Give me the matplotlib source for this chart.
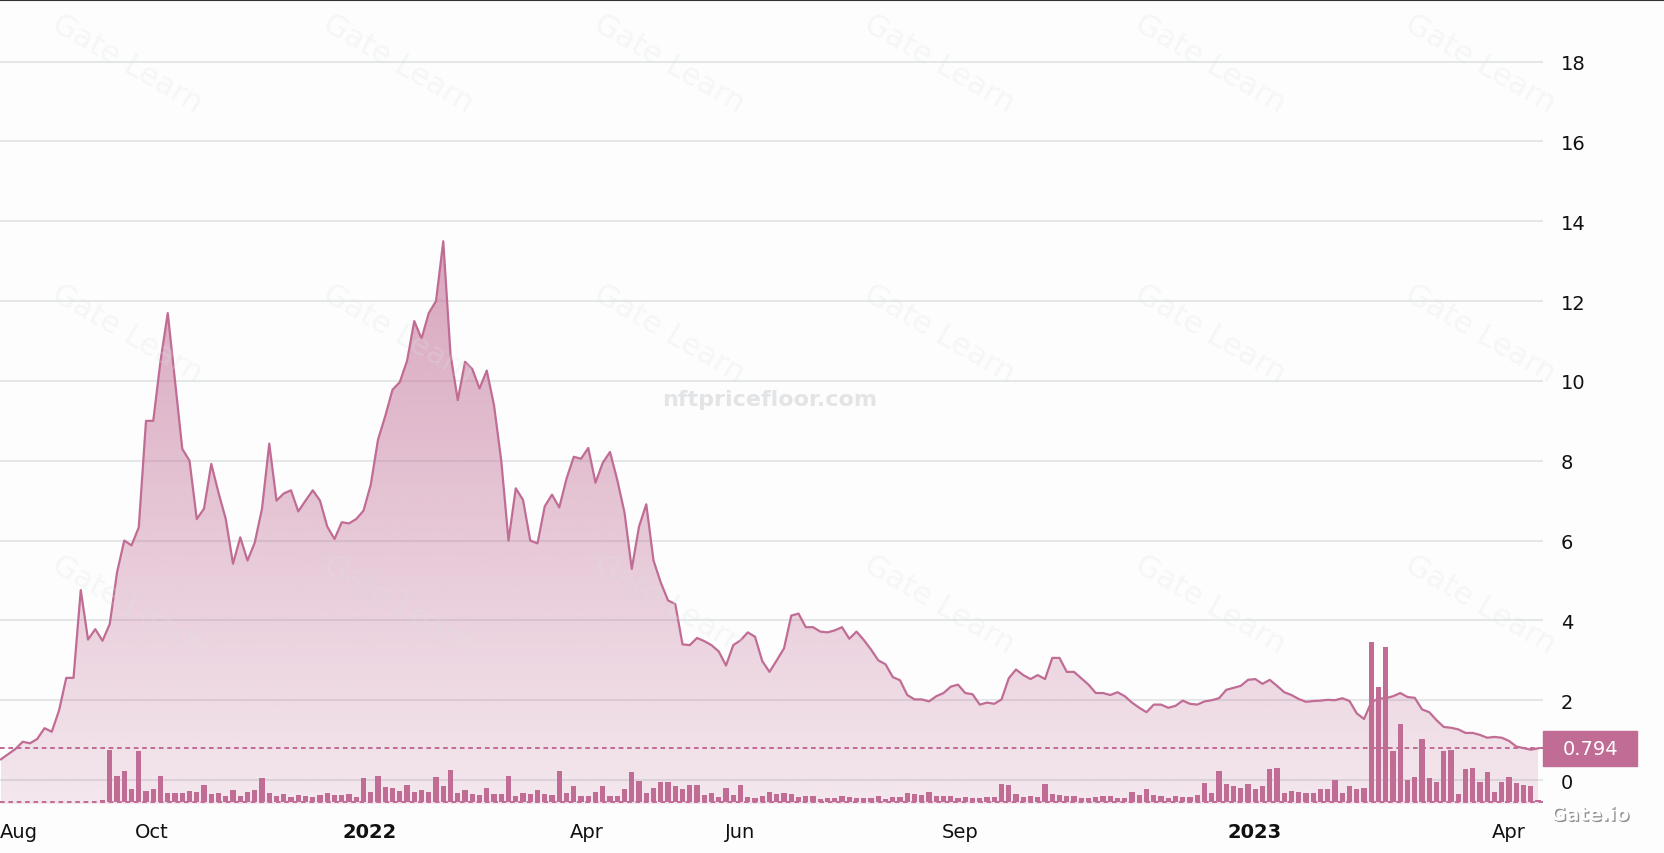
import numpy as np
import matplotlib
matplotlib.use("Agg")
import matplotlib.pyplot as plt
import matplotlib.patheffects as pe
from matplotlib.colors import to_rgb
from matplotlib.patches import Rectangle
from matplotlib.transforms import blended_transform_factory

# floor price (ETH), one point every few days
precio = [
    0.52, 0.65, 0.78, 0.96, 0.92, 1.03, 1.30, 1.21, 1.74, 2.56,
    2.56, 4.76, 3.52, 3.78, 3.49, 3.91, 5.2, 6.0, 5.88, 6.33,
    9.0, 9.0, 10.5, 11.7, 10.0, 8.3, 8.0, 6.54, 6.8, 7.92,
    7.2, 6.54, 5.42, 6.08, 5.5, 5.95, 6.8, 8.43, 7.0, 7.18,
    7.26, 6.73, 7.0, 7.26, 7.0, 6.35, 6.04, 6.46, 6.43, 6.54,
    6.75, 7.4, 8.53, 9.12, 9.78, 9.97, 10.5, 11.5, 11.06, 11.7,
    12.0, 13.5, 10.66, 9.52, 10.48, 10.3, 9.81, 10.26, 9.39, 8.0,
    6.0, 7.31, 7.02, 6.0, 5.93, 6.86, 7.15, 6.83, 7.55, 8.1,
    8.05, 8.32, 7.45, 7.95, 8.22, 7.52, 6.7, 5.29, 6.35, 6.91,
    5.5, 4.95, 4.5, 4.41, 3.4, 3.38, 3.56, 3.48, 3.38, 3.22,
    2.87, 3.38, 3.5, 3.7, 3.59, 2.98, 2.71, 3.0, 3.3, 4.12,
    4.17, 3.83, 3.83, 3.72, 3.7, 3.75, 3.83, 3.54, 3.72, 3.51,
    3.27, 3.0, 2.9, 2.58, 2.5, 2.13, 2.02, 2.02, 1.97, 2.1,
    2.18, 2.34, 2.39, 2.18, 2.15, 1.89, 1.94, 1.91, 2.02, 2.55,
    2.77, 2.63, 2.53, 2.63, 2.53, 3.06, 3.06, 2.71, 2.71, 2.55,
    2.39, 2.18, 2.18, 2.13, 2.2, 2.1, 1.94, 1.81, 1.7, 1.89,
    1.89, 1.81, 1.86, 1.99, 1.91, 1.89, 1.97, 2.0, 2.05, 2.26,
    2.31, 2.36, 2.51, 2.53, 2.41, 2.51, 2.36, 2.2, 2.13, 2.03,
    1.96, 1.98, 1.99, 2.01, 2.0, 2.05, 1.98, 1.67, 1.53, 1.95,
    2.04, 2.05, 2.1, 2.18, 2.08, 2.06, 1.77, 1.70, 1.50, 1.33,
    1.31, 1.27, 1.18, 1.18, 1.13, 1.06, 1.08, 1.06, 0.98, 0.84,
    0.80, 0.76, 0.794,
]

# traded volume, same points (no sales in the first weeks)
volumen = [0] * 14 + [
    5, 155, 77, 92, 38, 152, 32, 38, 77, 26,
    26, 26, 32, 29, 50, 23, 26, 17, 35, 17,
    29, 35, 71, 26, 17, 23, 14, 20, 17, 14,
    20, 26, 20, 20, 23, 14, 71, 29, 77, 44,
    41, 32, 50, 29, 35, 29, 74, 47, 95, 26,
    35, 23, 20, 41, 23, 23, 77, 17, 26, 23,
    35, 23, 20, 92, 26, 47, 17, 17, 29, 47,
    17, 17, 38, 89, 62, 26, 41, 59, 59, 47,
    38, 50, 50, 20, 26, 14, 41, 20, 50, 14,
    11, 17, 29, 23, 26, 23, 14, 17, 17, 8,
    11, 11, 17, 14, 11, 11, 11, 17, 8, 14,
    14, 26, 23, 20, 29, 17, 17, 17, 11, 14,
    11, 11, 14, 14, 53, 50, 23, 14, 17, 14,
    53, 23, 20, 17, 17, 11, 11, 14, 17, 17,
    11, 11, 29, 20, 38, 20, 17, 11, 17, 14,
    14, 20, 56, 26, 92, 53, 47, 41, 53, 38,
    47, 98, 101, 26, 32, 29, 26, 26, 38, 38,
    65, 26, 47, 38, 41, 480, 344, 464, 152, 233,
    65, 74, 188, 71, 59, 152, 155, 23, 98, 101,
    59, 89, 29, 59, 74, 56, 50, 47, 5,
]

tick_pos = [2.5, 20.8, 50.9, 80.8, 101.9, 132.3, 172.9, 208.0]
tick_labels = ['Aug', 'Oct', '2022', 'Apr', 'Jun', 'Sep', '2023', 'Apr']
y_ticks = list(range(0, 19, 2))
ultimo = precio[-1]

rosa = '#c06c94'
fondo = '#fdfdfd'

fig = plt.figure(figsize=(16.64, 8.54), dpi=100, facecolor=fondo)
ax = fig.add_axes([0, 0.0574, 0.9273, 0.9426])
ax.set_facecolor(fondo)

x = np.arange(len(precio))
y0, y1 = -0.60, 19.57

# volume bars on their own scale (twinx first, it moves the y ticks)
ax2 = ax.twinx()
ax2.set_ylim(-6.9, 2408)
ax2.bar(x, volumen, width=0.74, color=rosa, linewidth=0, zorder=2)
ax2.axhline(0, color=rosa, lw=1.4, dashes=(2.4, 1.9))
ax2.set_yticks([])
for s in ax2.spines.values():
    s.set_visible(False)

# gradient under the price line
yy = np.linspace(y0, y1, 400)
img = np.zeros((400, 1, 4))
img[:, 0, :3] = to_rgb(rosa)
img[:, 0, 3] = np.clip(0.17 + 0.032 * yy, 0.12, 0.8)
relleno = ax.fill_between(x, precio, y0, facecolor='none', edgecolor='none')
im = ax.imshow(img, extent=[x[0], x[-1], y0, y1], origin='lower',
               aspect='auto', zorder=1, interpolation='bilinear')
im.set_clip_path(relleno.get_paths()[0], transform=ax.transData)

ax.plot(x, precio, color=rosa, lw=1.6, zorder=3)
ax.axhline(ultimo, color=rosa, lw=1.4, dashes=(2.4, 1.9), zorder=3)

ax.set_xlim(-0.14, 212.69)
ax.set_ylim(y0, y1)
ax.set_yticks(y_ticks)
ax.yaxis.tick_right()
ax.grid(axis='y', color='#e4e6e7', lw=1.5)
ax.set_axisbelow(True)
ax.set_xticks(tick_pos)
ax.set_xticklabels(tick_labels)
for lbl in ax.get_xticklabels():
    if lbl.get_text().isdigit():
        lbl.set_fontweight('bold')
ax.tick_params(axis='both', length=0, labelsize=14, pad=13, labelcolor='#111111')
for s in ax.spines.values():
    s.set_visible(False)

# last price tag
trans = blended_transform_factory(ax.transAxes, ax.transData)
ax.add_patch(Rectangle((1.0, ultimo - 0.44), 0.0609, 0.88, transform=trans,
                       color=rosa, clip_on=False, zorder=5))
ax.text(1.0305, ultimo, f'{ultimo:.3f}', transform=trans, ha='center', va='center',
        color='white', fontsize=14, zorder=6, clip_on=False)

# watermarks
for wx in [127, 398, 669, 939, 1210, 1480]:
    for wy in [64, 334, 605]:
        fig.text(wx / 1664, 1 - wy / 854, 'Gate Learn', rotation=-30, fontsize=22,
                 color='#dde1e5', alpha=0.25, ha='center', va='center')
fig.text(770 / 1664, 1 - 400 / 854, 'nftpricefloor.com', fontsize=16,
         fontweight='bold', color='#e2e4e6', ha='center', va='center')
fig.text(1590 / 1664, 1 - 816 / 854, 'Gate.io', fontsize=14, fontweight='bold',
         color='white', ha='center', va='center',
         path_effects=[pe.withSimplePatchShadow(offset=(1, -1), shadow_rgbFace='#777777', alpha=0.8)])
fig.add_artist(plt.Line2D([0, 1], [0.9994, 0.9994], color='#333333', lw=0.8))

fig.savefig('out.png', dpi=100, facecolor=fondo)
